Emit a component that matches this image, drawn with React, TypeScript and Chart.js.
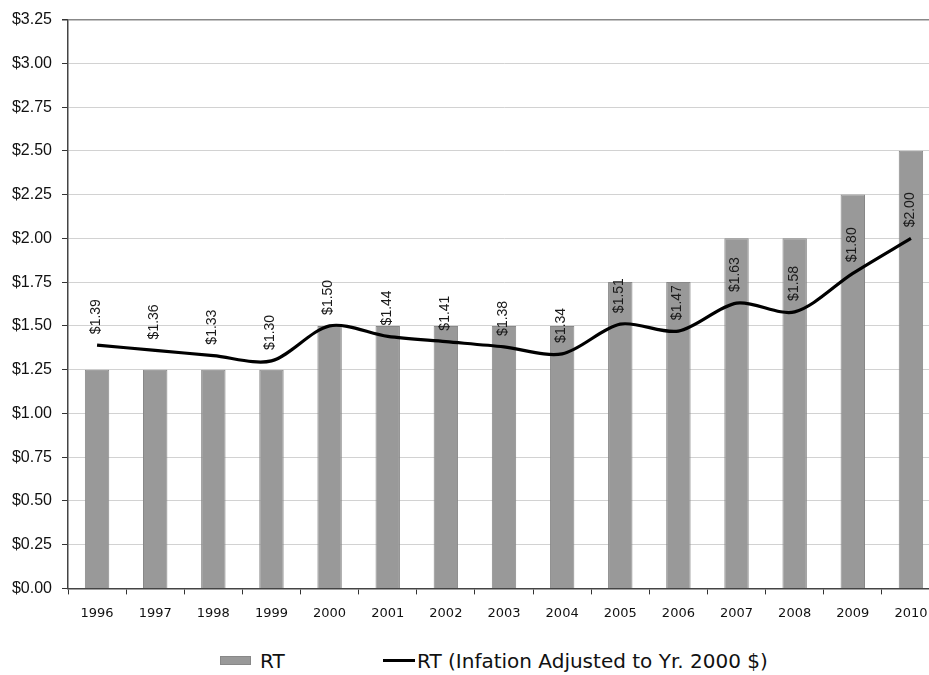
import { useEffect, useRef } from 'react';
import { Chart, registerables } from 'chart.js';

Chart.register(...registerables);

const years = ['1996', '1997', '1998', '1999', '2000', '2001', '2002', '2003', '2004', '2005', '2006', '2007', '2008', '2009', '2010'];
const fares = [1.25, 1.25, 1.25, 1.25, 1.5, 1.5, 1.5, 1.5, 1.5, 1.75, 1.75, 2.0, 2.0, 2.25, 2.5];
const adjusted = [1.39, 1.36, 1.33, 1.3, 1.5, 1.44, 1.41, 1.38, 1.34, 1.51, 1.47, 1.63, 1.58, 1.8, 2.0];

const money = (v: number) => '$' + v.toFixed(2);

const valueLabels = {
  id: 'valueLabels',
  afterDatasetsDraw(chart: Chart) {
    const meta = chart.getDatasetMeta(1);
    const ctx = chart.ctx;
    ctx.save();
    ctx.font = '14px "Liberation Sans", Arial, sans-serif';
    ctx.fillStyle = '#1a1a1a';
    ctx.textAlign = 'left';
    ctx.textBaseline = 'middle';
    meta.data.forEach((pt: any, i: number) => {
      ctx.save();
      ctx.translate(pt.x - 1, pt.y - 11);
      ctx.rotate(-Math.PI / 2);
      ctx.fillText(money(adjusted[i]), 0, 0);
      ctx.restore();
    });
    ctx.restore();
  },
};

function FareChart() {
  const canvasRef = useRef<HTMLCanvasElement>(null);
  const chartRef = useRef<Chart | null>(null);

  useEffect(() => {
    if (!canvasRef.current) return;
    chartRef.current?.destroy();
    chartRef.current = new Chart(canvasRef.current, {
      type: 'bar',
      data: {
        labels: years,
        datasets: [
          {
            type: 'bar',
            label: 'RT',
            data: fares,
            backgroundColor: '#999999',
            borderColor: '#888888',
            borderWidth: 1,
            barPercentage: 0.42,
            categoryPercentage: 1,
            order: 2,
          },
          {
            type: 'line',
            label: 'RT (Infation Adjusted to Yr. 2000 $)',
            data: adjusted,
            borderColor: '#000',
            borderWidth: 3.2,
            pointRadius: 0,
            tension: 0.3,
            fill: false,
            order: 1,
          },
        ],
      },
      options: {
        animation: false,
        responsive: true,
        maintainAspectRatio: false,
        layout: { padding: { top: 13, right: 0, bottom: 8, left: 0 } },
        plugins: {
          legend: { display: false },
          tooltip: { enabled: false },
        },
        scales: {
          x: {
            grid: {
              offset: true,
              drawOnChartArea: false,
              drawTicks: true,
              tickLength: 6,
              tickColor: '#333',
            },
            border: { color: '#444', width: 1.5 },
            ticks: {
              padding: 11,
              color: '#111',
              font: { family: '"DejaVu Sans", sans-serif', size: 13 },
            },
          },
          y: {
            min: 0,
            max: 3.25,
            afterFit: (s: any) => { s.width = 68; },
            grid: {
              color: (c: any) => (c.tick && c.tick.value === 3.25 ? '#888' : '#d2d2d2'),
              lineWidth: (c: any) => (c.tick && c.tick.value === 3.25 ? 1.5 : 1),
              tickLength: 6,
              tickColor: '#333',
            },
            border: { color: '#444', width: 1.5 },
            ticks: {
              stepSize: 0.25,
              padding: 10,
              color: '#111',
              font: { family: '"Liberation Sans", Arial, sans-serif', size: 16 },
              callback: (v: any) => money(Number(v)),
            },
          },
        },
      },
      plugins: [valueLabels],
    });
    return () => { chartRef.current?.destroy(); };
  }, []);

  return <canvas ref={canvasRef} />;
}

export default function App() {
  return (
    <div style={{ position: 'absolute', left: 0, top: 0, width: 929, height: 675, overflow: 'hidden', background: '#fff' }}>
      <div style={{ position: 'absolute', left: 0, top: 0, width: 940, height: 640 }}>
        <FareChart />
      </div>
      <div style={{ position: 'absolute', top: 649, left: 0, height: 24, width: 929, fontFamily: '"DejaVu Sans", sans-serif', fontSize: 20, color: '#111' }}>
        <span style={{ position: 'absolute', left: 220, top: 7, width: 31, height: 9, background: '#999', border: '1px solid #888', boxSizing: 'border-box' }} />
        <span style={{ position: 'absolute', left: 260, top: 0, lineHeight: '24px' }}>RT</span>
        <span style={{ position: 'absolute', left: 383, top: 10, width: 32, height: 3, background: '#000' }} />
        <span style={{ position: 'absolute', left: 417, top: 0, lineHeight: '24px', whiteSpace: 'nowrap' }}>RT (Infation Adjusted to Yr. 2000 $)</span>
      </div>
    </div>
  );
}
